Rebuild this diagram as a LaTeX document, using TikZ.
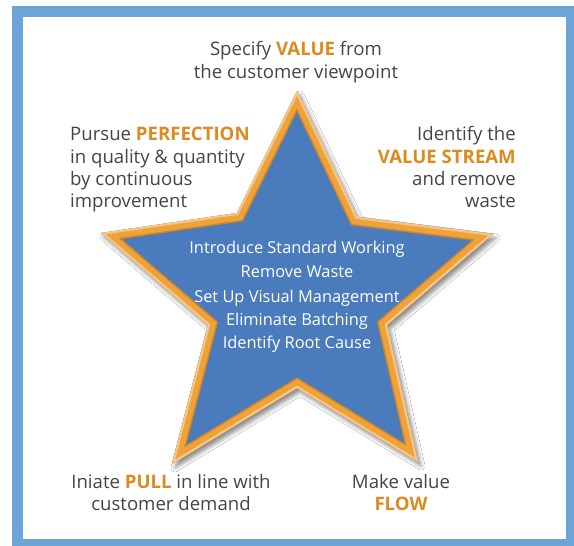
\documentclass[tikz,border=0pt]{standalone}
\usepackage{fontspec}
\setmainfont{Open Sans}
\usetikzlibrary{shadows.blur}
\definecolor{framefill}{HTML}{6CA4D8}
\definecolor{starblue}{HTML}{4A7BBD}
\definecolor{rimorange}{HTML}{EEA33A}
\definecolor{rimdark}{HTML}{D08628}
\definecolor{txtgray}{HTML}{454545}
\definecolor{keyorange}{HTML}{DD8A1E}
\newcommand\kw[1]{{\bfseries\color{keyorange}#1}}
\tikzset{
  lbl/.style={font=\fontsize{18.6}{22}\selectfont, text=txtgray, inner sep=0pt},
  inlbl/.style={font=\fontsize{16.4}{20}\selectfont, text=white, inner sep=0pt, anchor=base},
}
\begin{document}
\begin{tikzpicture}[x=1pt,y=-1pt]
\useasboundingbox (0,0) rectangle (574,546);
\fill[white] (0,0) rectangle (574,546);
% outer frame
\draw[framefill, line width=11pt] (17.5,11.5) rectangle (571,544);

% star outline points
\coordinate (t)  at (297,91);
\coordinate (ur) at (357,217);
\coordinate (r)  at (493,234);
\coordinate (lr) at (387,325);
\coordinate (br) at (418,462);
\coordinate (b)  at (297,388);
\coordinate (bl) at (172,464);
\coordinate (ll) at (208,325);
\coordinate (l)  at (101,233);
\coordinate (ul) at (237,213);
\def\starpath{(t) -- (ur) -- (r) -- (lr) -- (br) -- (b) -- (bl) -- (ll) -- (l) -- (ul) -- cycle}

% soft shadow
\fill[black!0, blur shadow={shadow xshift=3pt, shadow yshift=-4pt, shadow blur radius=4pt, shadow opacity=45}] \starpath;
% star body with inset rim
\begin{scope}
  \clip \starpath;
  \fill[starblue] \starpath;
  \draw[rimdark, line width=18pt, line join=miter] \starpath;
  \draw[rimorange, line width=15pt, line join=miter] \starpath;
  \draw[rimorange!60!white, line width=4pt, line join=miter] \starpath;
\end{scope}

% top
\node[lbl, anchor=base] (v1) at (296,56) {Specify \kw{VALUE} from};
\node[lbl, anchor=base] (v2) at (296,78) {the customer viewpoint};
% upper left
\node[lbl, anchor=base west] (p1) at (70,140) {Pursue \kw{PERFECTION}};
\node[lbl, anchor=base west] (p2) at (70,163) {in quality \& quantity};
\node[lbl, anchor=base west] (p3) at (70,185) {by continuous};
\node[lbl, anchor=base west] (p4) at (70,207) {improvement};
% upper right
\node[lbl, anchor=base east] (s1) at (516,140) {Identify the};
\node[lbl, anchor=base east] (s2) at (516,163) {\kw{VALUE STREAM}};
\node[lbl, anchor=base east] (s3) at (516,185) {and remove};
\node[lbl, anchor=base east] (s4) at (516,207) {waste};
% bottom left
\node[lbl, anchor=base] (u1) at (171,488) {Iniate \kw{PULL} in line with};
\node[lbl, anchor=base] (u2) at (171,510) {customer demand};
% bottom right
\node[lbl, anchor=base] (f1) at (401,488) {Make value};
\node[lbl, anchor=base] (f2) at (401,510) {\kw{FLOW}};
% centre list
\node[inlbl] (c1) at (297,253) {Introduce Standard Working};
\node[inlbl] (c2) at (297,277) {Remove Waste};
\node[inlbl] (c3) at (297,302) {Set Up Visual Management};
\node[inlbl] (c4) at (297,325) {Eliminate Batching};
\node[inlbl] (c5) at (297,348) {Identify Root Cause};
\end{tikzpicture}
\end{document}
